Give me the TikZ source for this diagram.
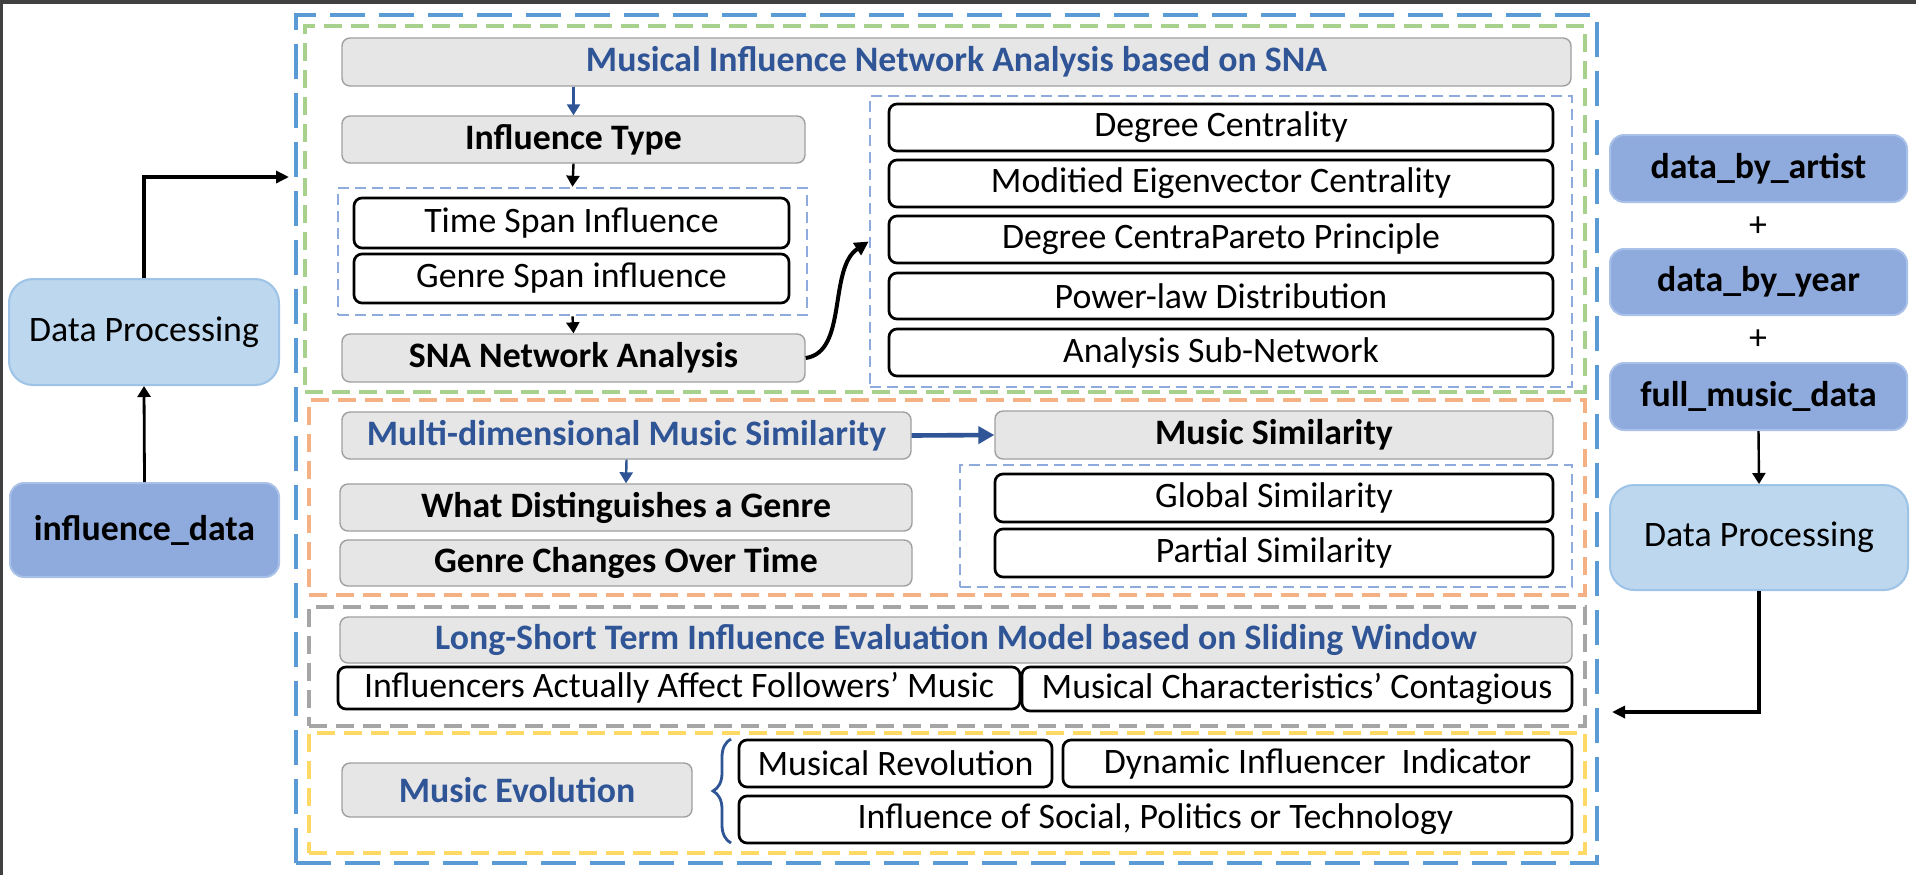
\documentclass[tikz,border=0pt]{standalone}
\usepackage{fontspec}
\setmainfont{Carlito}
\usetikzlibrary{arrows.meta,decorations.pathreplacing,calc}
\definecolor{outerblue}{HTML}{5B9BD5}
\definecolor{greenframe}{HTML}{A9D18E}
\definecolor{orangeframe}{HTML}{F4B183}
\definecolor{grayframe}{HTML}{A5A5A5}
\definecolor{yellowframe}{HTML}{FFD966}
\definecolor{innerdash}{HTML}{8FAADC}
\definecolor{textblue}{HTML}{2F5597}
\definecolor{grayfill}{HTML}{E7E6E6}
\definecolor{graydraw}{HTML}{A0A0A0}
\definecolor{datafill}{HTML}{8FAADC}
\definecolor{datadraw}{HTML}{A9C1E8}
\definecolor{dpfill}{HTML}{BDD7EE}
\definecolor{dpdraw}{HTML}{9DC3E6}
\definecolor{darkframe}{HTML}{404040}
\newcommand\mybox[7][]{\node[#1, minimum width={(#5-#3)*0.5pt}, minimum height={(#6-#4)*0.5pt}] (#2) at ({(#3+#5)/2},{(#4+#6)/2}) {#7};}
\begin{document}
\begin{tikzpicture}[x=0.5pt,y=-0.5pt,
  every node/.style={font=\fontsize{17.9}{21}\selectfont, inner sep=0pt, align=center},
  grayb/.style={draw=graydraw, fill=grayfill, line width=0.7pt, rounded corners=4pt},
  whiteb/.style={draw=black, fill=white, line width=1.35pt, rounded corners=4pt},
  bluet/.style={text=textblue, font=\fontsize{17.9}{21}\selectfont\bfseries},
  boldt/.style={font=\fontsize{17.9}{21}\selectfont\bfseries},
  databox/.style={draw=datadraw, fill=datafill, line width=1pt, rounded corners=7pt, font=\fontsize{17.9}{21}\selectfont\bfseries},
  dpbox/.style={draw=dpdraw, fill=dpfill, line width=1pt, rounded corners=12pt},
  outerframe/.style={draw=outerblue, line width=2pt, dash pattern=on 17.5pt off 7pt},
  secframe/.style={line width=1.6pt, dash pattern=on 9pt off 4.5pt},
  innerframe/.style={draw=innerdash, line width=1.3pt, dash pattern=on 5.5pt off 3pt},
  arr/.style={-{Triangle[length=5.5pt,width=6.5pt]}, line width=1.2pt},
  bigarr/.style={-{Triangle[length=6.5pt,width=6pt]}, line width=1.75pt},
]
\useasboundingbox (0,0) rectangle (1916,875);
\fill[white] (0,0) rectangle (1916,875);
\fill[darkframe] (0,0) rectangle (1916,4);
\fill[darkframe] (0,0) rectangle (3,875);

% frames
\mybox[outerframe]{outer}{296}{15}{1597}{863}{}
\mybox[secframe, draw=greenframe]{greenbox}{305}{26}{1585}{392}{}
\mybox[secframe, draw=orangeframe]{orangebox}{309}{400}{1585}{595}{}
\mybox[secframe, draw=grayframe]{graybox}{309}{607}{1585}{726}{}
\mybox[secframe, draw=yellowframe]{yellowbox}{309}{733}{1585}{853}{}

% SNA section
\mybox[grayb, bluet]{title}{342}{38}{1571}{86}{Musical Influence Network Analysis based on SNA}
\mybox[grayb, boldt]{inftype}{342}{116}{805}{163}{Influence Type}
\mybox[innerframe]{spanbox}{338}{188}{807}{315}{}
\mybox[whiteb]{timespan}{354}{198}{789}{248}{Time Span Influence}
\mybox[whiteb]{genrespan}{354}{254}{789}{303}{Genre Span influence}
\mybox[grayb, boldt]{sna}{342}{334}{805}{382}{SNA Network Analysis}
\mybox[innerframe]{centbox}{870}{96}{1572}{387}{}
\mybox[whiteb]{c1}{889}{104}{1553}{151}{Degree Centrality}
\mybox[whiteb]{c2}{889}{160}{1553}{207}{Moditied Eigenvector Centrality}
\mybox[whiteb]{c3}{889}{216}{1553}{263}{Degree CentraPareto Principle}
\mybox[whiteb]{c4}{889}{273}{1553}{319}{Power-law Distribution}
\mybox[whiteb]{c5}{889}{329}{1553}{376}{Analysis Sub-Network}

\draw[arr, textblue] (inftype.north |- title.south) -- (inftype.north);
\draw[arr] (inftype.south) -- (spanbox.north);
\draw[arr] (spanbox.south) -- (sna.north);
\draw[-{Triangle[length=7pt,width=7pt]}, line width=2pt] (sna.east) .. controls (848,352) and (828,268) .. (centbox.west);

% similarity section
\mybox[grayb, bluet]{multi}{342}{412}{911}{459}{Multi-dimensional Music Similarity}
\mybox[grayb, boldt]{musicsim}{995}{411}{1553}{459}{Music Similarity}
\mybox[grayb, boldt]{what}{340}{484}{912}{531}{What Distinguishes a Genre}
\mybox[grayb, boldt]{changes}{340}{540}{912}{586}{Genre Changes Over Time}
\mybox[innerframe]{simbox}{960}{465}{1572}{587}{}
\mybox[whiteb]{global}{995}{474}{1553}{522}{Global Similarity}
\mybox[whiteb]{partial}{995}{529}{1553}{577}{Partial Similarity}
\draw[-{Triangle[length=8pt,width=8.5pt]}, line width=2.3pt, textblue] (multi.east) -- (musicsim.west);
\draw[arr, textblue] (multi.south) -- (what.north);

% long-short section
\mybox[grayb, bluet]{longshort}{340}{617}{1572}{663}{Long-Short Term Influence Evaluation Model based on Sliding Window}
\mybox[whiteb]{influencers}{338}{667}{1020}{709}{Influencers Actually Affect Followers’ Music}
\mybox[whiteb]{contagious}{1022}{667}{1572}{711}{Musical Characteristics’ Contagious}

% evolution section
\mybox[grayb, bluet]{evol}{342}{763}{692}{817}{Music Evolution}
\mybox[whiteb]{revol}{739}{740}{1052}{787}{Musical Revolution}
\mybox[whiteb]{dyn}{1063}{740}{1572}{787}{Dynamic Influencer~ Indicator}
\mybox[whiteb]{social}{739}{796}{1572}{843}{Influence of Social, Politics or Technology}
\coordinate (brb) at (731,843);
\coordinate (brt) at (731,739);
\draw[textblue, line width=1.4pt, decorate, decoration={brace, amplitude=9pt}] (brb) -- (brt);

% right data column
\mybox[databox]{artist}{1610}{135}{1907}{202}{data\_by\_artist}
\node (plus1) at (1758,227) {+};
\mybox[databox]{year}{1610}{249}{1907}{315}{data\_by\_year}
\node (plus2) at (1758,340) {+};
\mybox[databox]{full}{1610}{363}{1907}{430}{full\_music\_data}
\mybox[dpbox]{dpright}{1610}{485}{1908}{590}{Data Processing}
\draw[arr] (full.south) -- (dpright.north);
\coordinate (rtip) at (1612,712);
\draw[bigarr] (dpright.south) |- (rtip);

% left data column
\mybox[dpbox]{dpleft}{9}{279}{279}{385}{Data Processing}
\mybox[databox]{infdata}{10}{483}{279}{577}{influence\_data}
\draw[-{Triangle[length=5.5pt,width=6.5pt]}, line width=1.4pt] (infdata.north) -- (dpleft.south);
\coordinate (ltip) at (289,177);
\draw[bigarr] (dpleft.north) |- (ltip);
\end{tikzpicture}
\end{document}
